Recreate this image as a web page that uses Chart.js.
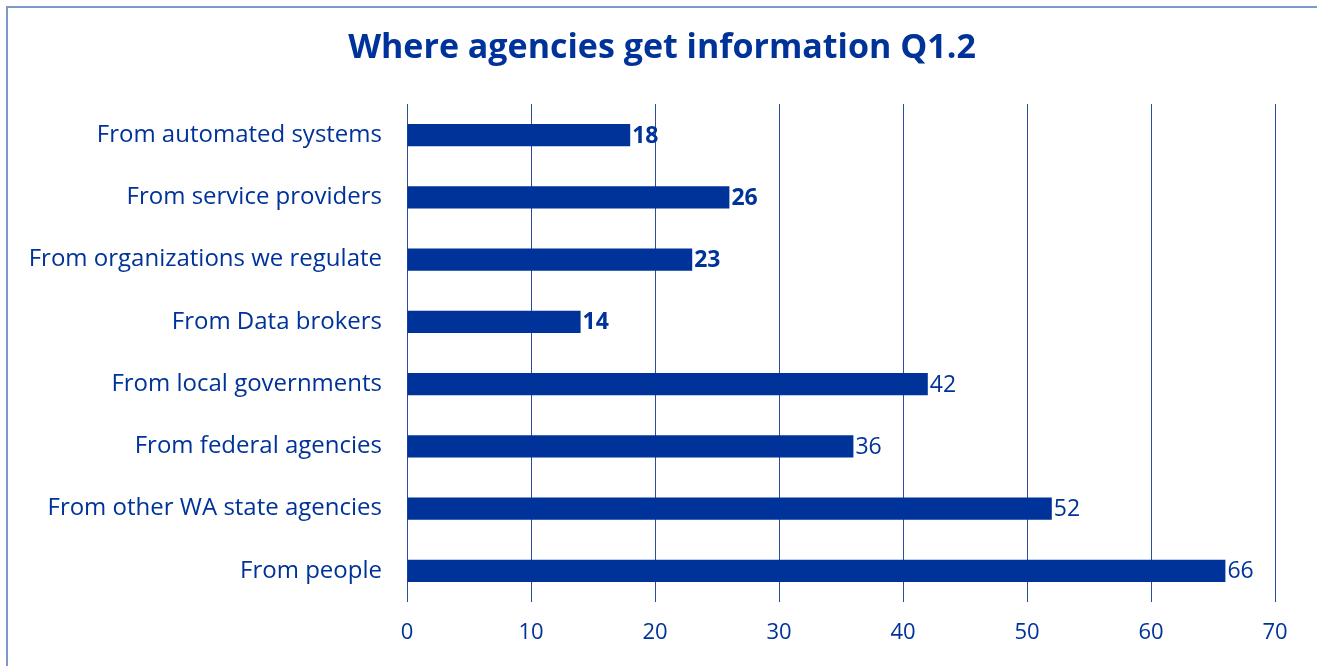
<!DOCTYPE html>
<html>
<head>
<meta charset="utf-8">
<title>Where agencies get information Q1.2</title>
<script src="https://cdn.jsdelivr.net/npm/chart.js@4.4.1/dist/chart.umd.min.js"></script>
<style>
  html, body { margin: 0; padding: 0; background: #ffffff; overflow: hidden; }
  #wrap { position: relative; width: 1317px; height: 666px; }
  #frame {
    position: absolute; left: 6px; top: 6px; width: 1400px; height: 800px;
    border: 2px solid #7f96cf; box-sizing: border-box; pointer-events: none;
  }
  canvas { position: absolute; left: 0; top: 0; }
</style>
</head>
<body>
<div id="wrap">
  <div id="frame"></div>
  <canvas id="chart" width="1317" height="666"></canvas>
</div>
<script>
// Survey responses: where agencies get information (question 1.2)
const categories = [
  'From automated systems',
  'From service providers',
  'From organizations we regulate',
  'From Data brokers',
  'From local governments',
  'From federal agencies',
  'From other WA state agencies',
  'From people'
];
const counts = [18, 26, 23, 14, 42, 36, 52, 66];
// Which value labels are set in bold
const boldLabel = [true, true, true, true, false, false, false, false];
const xTicks = [0, 10, 20, 30, 40, 50, 60, 70];

const NAVY = '#003399';
const FONT = '"Open Sans", "Noto Sans", sans-serif';

// Writes each bar's value just past the end of the bar
const valueLabels = {
  id: 'valueLabels',
  afterDatasetsDraw(chart) {
    const ctx = chart.ctx;
    const meta = chart.getDatasetMeta(0);
    ctx.save();
    ctx.fillStyle = NAVY;
    ctx.textAlign = 'left';
    ctx.textBaseline = 'middle';
    meta.data.forEach((bar, i) => {
      ctx.font = (boldLabel[i] ? 'bold ' : '') + '23px ' + FONT;
      ctx.fillText(String(counts[i]), bar.x + 2, bar.y + 1);
    });
    ctx.restore();
  }
};

// Centres the title on the framed panel rather than on the plot column
const titleOffset = {
  id: 'titleOffset',
  afterLayout(chart) {
    if (chart.titleBlock) chart.titleBlock.left = 49;
  }
};

new Chart(document.getElementById('chart'), {
  type: 'bar',
  data: {
    labels: categories,
    datasets: [{
      data: counts,
      backgroundColor: NAVY,
      borderWidth: 0,
      categoryPercentage: 1,
      barPercentage: 0.355
    }]
  },
  options: {
    indexAxis: 'y',
    responsive: false,
    animation: false,
    events: [],
    layout: { padding: { left: 0, right: 42, top: 0, bottom: 0 } },
    plugins: {
      legend: { display: false },
      tooltip: { enabled: false },
      title: {
        display: true,
        text: 'Where agencies get information Q1.2',
        color: NAVY,
        font: { family: FONT, size: 34, weight: 'bold', lineHeight: 1.2 },
        padding: { top: 27.6, bottom: 35.6 }
      }
    },
    scales: {
      x: {
        type: 'linear',
        min: 0,
        max: 70,
        afterBuildTicks(scale) { scale.ticks = xTicks.map(v => ({ value: v })); },
        afterFit(scale) { scale.height = 64; },
        border: { display: false },
        grid: { color: '#2d4c9e', lineWidth: 1, drawTicks: false },
        ticks: {
          color: NAVY,
          padding: 18,
          font: { family: FONT, size: 22 }
        }
      },
      y: {
        afterFit(scale) { scale.width = 407; },
        border: { display: false },
        grid: { display: false, drawTicks: false },
        ticks: {
          color: NAVY,
          padding: 25,
          font: { family: FONT, size: 24 }
        }
      }
    }
  },
  plugins: [valueLabels, titleOffset]
});
</script>
</body>
</html>
